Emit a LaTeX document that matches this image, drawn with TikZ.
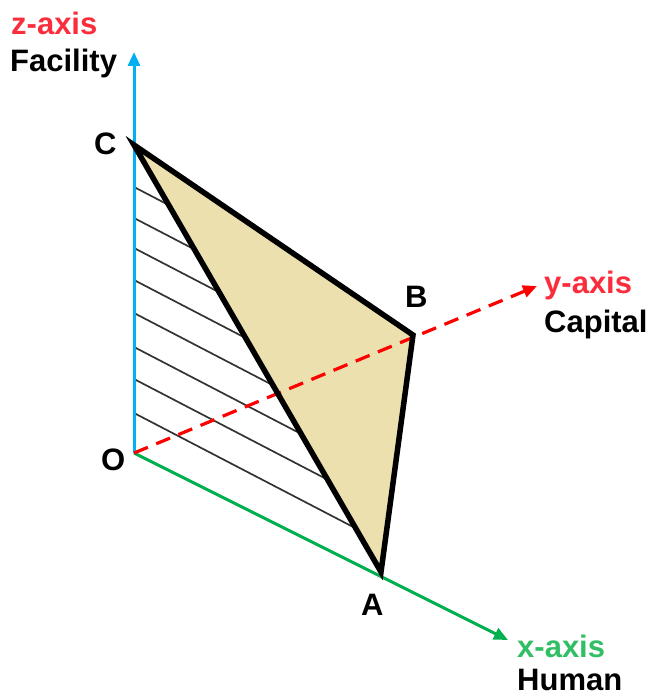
\documentclass[tikz,border=0pt]{standalone}
\usepackage{fontspec}
\setmainfont{Liberation Sans}
\usetikzlibrary{arrows.meta}
\definecolor{zblue}{RGB}{0,176,240}
\definecolor{xgreen}{RGB}{0,176,80}
\definecolor{yred}{RGB}{255,0,0}
\definecolor{lblred}{RGB}{250,45,60}
\definecolor{lblgreen}{RGB}{50,190,100}
\definecolor{beige}{RGB}{236,224,174}
\begin{document}
\begin{tikzpicture}[x=1pt,y=-1pt,
  lbl/.style={anchor=base west,inner sep=0pt,font=\bfseries\fontsize{31}{36}\selectfont},
  axistip/.style={-{Triangle[length=14pt,width=12pt]}},
  hatchline/.style={line width=1.7pt,black!80},
  edge/.style={line width=5.5pt,black,line join=miter}]
\useasboundingbox (0,0) rectangle (652,695);
\coordinate (O) at (134,453);
\coordinate (C) at (134,145);
\coordinate (B) at (413,335);
\coordinate (A) at (381,572);
\coordinate (Ztip) at (134,52);
\coordinate (Ytip) at (537,286);
\coordinate (Xtip) at (508,640);
% face
\fill[beige] (C) -- (B) -- (A) -- cycle;
% hatching
\begin{scope}
  \clip (O) -- (C) -- (A) -- cycle;
  \foreach \yy in {187,218,248,280,313,347,379,413}
    \draw[hatchline] (134,\yy) -- ++(400,208);
\end{scope}
% axes
\draw[zblue,line width=3pt,axistip] (O) -- (Ztip);
\draw[xgreen,line width=3pt,axistip] (O) -- (Xtip);
\draw[yred,line width=3.2pt,dash pattern=on 15pt off 9pt,axistip] (O) -- (Ytip);
% outline
\draw[edge] (C) -- (B) -- (A) -- cycle;
% labels
\node[lbl,text=lblred] (zl) at (11,35) {z-axis};
\node[lbl] (zn) at (10,72) {Facility};
\node[lbl,text=lblred] (yl) at (544,293) {y-axis};
\node[lbl] (yn) at (544,332) {Capital};
\node[lbl,text=lblgreen] (xl) at (517,657) {x-axis};
\node[lbl] (xn) at (517,690) {Human};
\node[lbl] (Cl) at (94,155) {C};
\node[lbl] (Bl) at (405,307) {B};
\node[lbl] (Ol) at (101,470) {O};
\node[lbl] (Al) at (361,615) {A};
\end{tikzpicture}
\end{document}
